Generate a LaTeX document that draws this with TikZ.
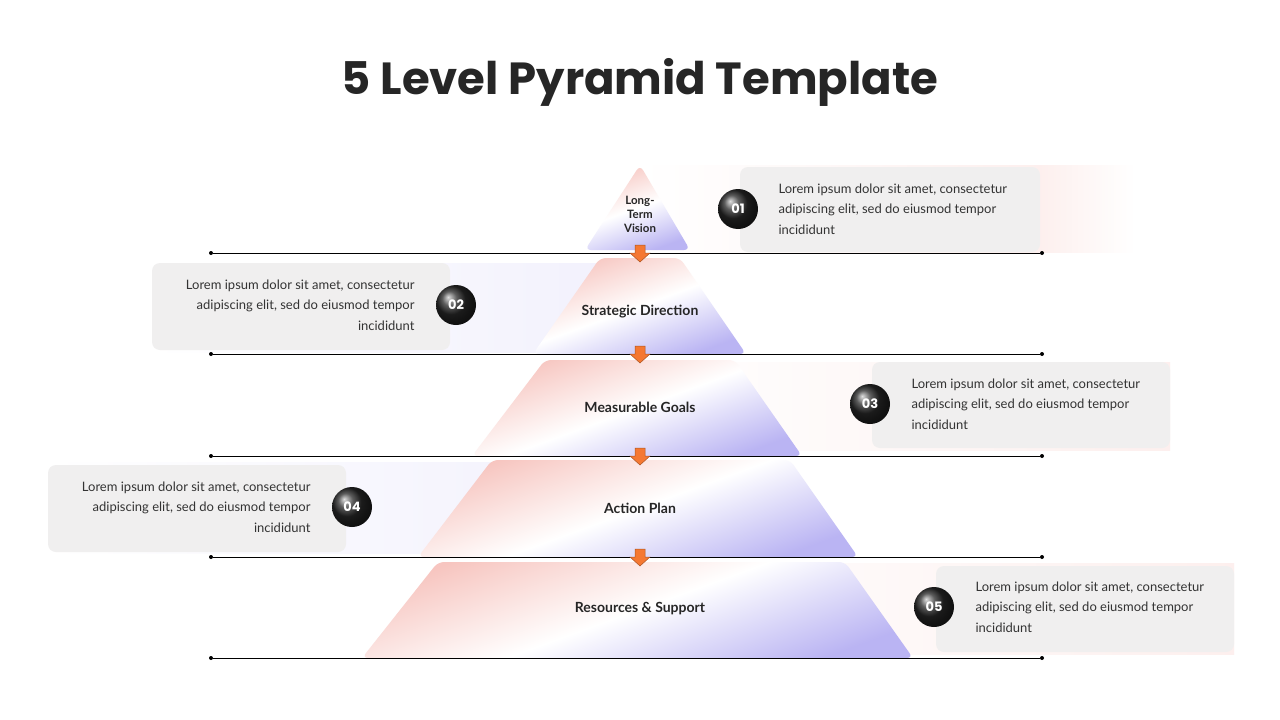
\documentclass[tikz,border=0pt]{standalone}
\usepackage{fontspec}
\setmainfont{Lato}
\newfontfamily\pop{Poppins}
\usetikzlibrary{arrows.meta,shapes.geometric}
\definecolor{boxg}{RGB}{240,239,239}
\definecolor{pk}{RGB}{240,150,140}
\definecolor{pu}{RGB}{140,130,235}
\definecolor{orng}{RGB}{245,120,50}
\tikzset{
 lvl/.style={rounded corners=6pt,shading=axis,top color=pk!55,bottom color=pu!60,middle color=white,shading angle=20},
 tbox/.style={fill=boxg,rounded corners=8pt},
 num/.style={circle,minimum size=40pt,inner sep=0pt,ball color=black!85,text=white,font=\pop\bfseries\fontsize{13}{13}\selectfont},
 lab/.style={font=\bfseries\fontsize{14}{15}\selectfont,text=black!85,align=center},
 bodyL/.style={font=\fontsize{13}{20.5}\selectfont,text=black!80,align=left,anchor=west},
 bodyR/.style={font=\fontsize{13}{20.5}\selectfont,text=black!80,align=right,anchor=east},
 dl/.style={black,line width=0.8pt},
 dot/.style={circle,fill=black,inner sep=0pt,minimum size=4pt},
 arr/.style={fill=orng,draw=orng!70!black,line width=0.5pt}
}
\begin{document}
\begin{tikzpicture}[x=1pt,y=-1pt]
\useasboundingbox (0,0) rectangle (1280,720);
\fill[white] (0,0) rectangle (1280,720);
\node[font=\pop\bfseries\fontsize{45}{50}\selectfont,text=black!85] (title) at (640,82) {5 Level Pyramid Template};
% faint bands
\shade[left color=white,right color=pk!15] (640,165) rectangle (1040,252);
\shade[left color=pk!15,right color=white] (1040,165) rectangle (1135,252);
\shade[left color=white,right color=pu!12] (150,263) rectangle (640,352);
\shade[left color=white,right color=pk!15] (640,362) rectangle (1170,450);
\shade[left color=white,right color=pu!12] (48,462) rectangle (640,553);
\shade[left color=white,right color=pk!15] (640,563) rectangle (1234,654);
% levels
\path[lvl] (640,165) -- (690,250) -- (585,250) -- cycle;
\path[lvl] (600,258) -- (680,258) -- (746,354) -- (533,354) -- cycle;
\path[lvl] (545,360) -- (735,360) -- (802,456) -- (472,456) -- cycle;
\path[lvl] (492,460) -- (790,460) -- (858,557) -- (418,557) -- cycle;
\path[lvl] (438,562) -- (845,562) -- (913,658) -- (362,658) -- cycle;
\node[lab,font=\bfseries\fontsize{11.5}{14}\selectfont] (l1) at (640,214) {Long-\\Term\\Vision};
\node[lab] (l2) at (640,312) {Strategic Direction};
\node[lab] (l3) at (640,407) {Measurable Goals};
\node[lab] (l4) at (640,508) {Action Plan};
\node[lab] (l5) at (640,609) {Resources \& Support};
% boxes
\fill[tbox] (740,167) rectangle (1040,252);
\fill[tbox] (152,263) rectangle (450,350);
\fill[tbox] (872,362) rectangle (1170,448);
\fill[tbox] (48,465) rectangle (346,552);
\fill[tbox] (936,566) rectangle (1234,652);
\node[bodyL] (t1) at (775,209) {Lorem ipsum dolor sit amet, consectetur\\adipiscing elit, sed do eiusmod tempor\\incididunt};
\node[bodyR] (t2) at (418,305) {Lorem ipsum dolor sit amet, consectetur\\adipiscing elit, sed do eiusmod tempor\\incididunt};
\node[bodyL] (t3) at (908,404) {Lorem ipsum dolor sit amet, consectetur\\adipiscing elit, sed do eiusmod tempor\\incididunt};
\node[bodyR] (t4) at (314,507) {Lorem ipsum dolor sit amet, consectetur\\adipiscing elit, sed do eiusmod tempor\\incididunt};
\node[bodyL] (t5) at (972,607) {Lorem ipsum dolor sit amet, consectetur\\adipiscing elit, sed do eiusmod tempor\\incididunt};
\node[num] (n1) at (738,209) {01};
\node[num] (n2) at (456,305) {02};
\node[num] (n3) at (870,404) {03};
\node[num] (n4) at (352,507) {04};
\node[num] (n5) at (934,607) {05};
% lines
\foreach \i/\y in {1/253,2/354,3/456,4/557,5/658}{
 \node[dot] (a\i) at (211,\y) {};
 \node[dot] (b\i) at (1042,\y) {};
 \draw[dl] (a\i) -- (b\i);
}
\foreach \y in {253,354,456,557}{
 \path[arr] (635,\y-8) -- (645,\y-8) -- (645,\y) -- (650,\y) -- (640,\y+9) -- (630,\y) -- (635,\y) -- cycle;
}
\end{tikzpicture}
\end{document}
